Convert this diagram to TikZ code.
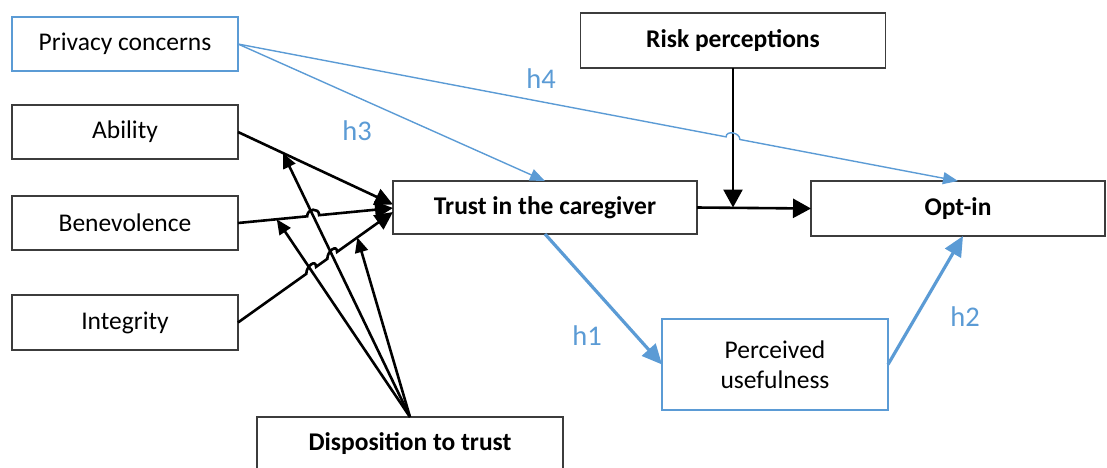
\documentclass[tikz,border=0pt]{standalone}
\usepackage{fontspec}
\setmainfont{Carlito}
\usetikzlibrary{arrows.meta,calc,intersections}
\definecolor{obl}{RGB}{91,155,213}
\definecolor{bord}{RGB}{60,60,60}
\tikzset{
 box/.style={draw=bord, line width=1.6pt, fill=white, minimum height=54pt, inner sep=0pt, outer sep=0pt, align=center, font=\fontsize{25.5}{30}\selectfont},
 bbox/.style={box, font=\fontsize{25.5}{30}\selectfont\bfseries},
 blbox/.style={box, draw=obl},
 blk/.style={line width=2.6pt, black, -{Triangle[length=18pt,width=17pt]}},
 blkd/.style={line width=2.6pt, black, -{Triangle[length=15pt,width=13pt]}},
 blkr/.style={line width=2.6pt, black, -{Triangle[length=18pt,width=19pt]}},
 thinblue/.style={line width=1.4pt, obl, -{Triangle[length=15pt,width=12pt]}},
 thickblue/.style={line width=3.2pt, obl, -{Triangle[length=20pt,width=18pt]}},
 hlab/.style={text=obl, font=\fontsize{28.5}{32}\selectfont, inner sep=0pt},
}
\begin{document}
\begin{tikzpicture}[x=1pt,y=-1pt]
\useasboundingbox (0,0) rectangle (1107,467);
% boxes
\node[blbox, minimum width=226pt] (pc) at (125,44) {Privacy concerns};
\node[box, minimum width=226pt] (ab) at (125,132) {Ability};
\node[box, minimum width=226pt] (be) at (125,223) {Benevolence};
\node[box, minimum width=226pt, minimum height=55pt] (in) at (125,322.5) {Integrity};
\node[bbox, minimum width=304pt, minimum height=53pt] (tr) at (545,207.5) {Trust in the caregiver};
\node[bbox, minimum width=294pt, minimum height=55pt] (op) at (958,208.5) {Opt-in};
\node[bbox, minimum width=305pt, minimum height=55pt] (rp) at (733,40.5) {Risk perceptions};
\node[blbox, minimum width=226pt, minimum height=91pt] (pu) at (775,364.5) {Perceived\\usefulness};
\node[bbox, minimum width=306pt] (dt) at (410,444) {Disposition to trust};
% coordinates
\coordinate (tA) at ($(tr.west)+(0,-3)$);
\coordinate (tB) at ($(tr.west)+(0,0.5)$);
\coordinate (tI) at ($(tr.west)+(0,4.5)$);
\coordinate (a1) at ($(ab.east)!0.29!(tA)$);
\coordinate (b1) at ($(be.east)!0.25!(tB)$);
\coordinate (i1) at ($(in.east)!0.77!(tI)$);
\coordinate (rj) at (rp.south |- tr.east);
\coordinate (h2e) at ($(op.south)+(5,0)$);
\path[name path=d1] (dt.north) -- (a1);
\path[name path=d2] (dt.north) -- (b1);
\path[name path=lb] (be.east) -- (tB);
\path[name path=li] (in.east) -- (tI);
\path[name path=h4] (pc.east) -- (op.north);
\path[name path=rv] (rp.south) -- (rj);
\path[name intersections={of=d1 and lb, by=xb}];
\path[name intersections={of=d2 and li, by=xiA}];
\path[name intersections={of=d1 and li, by=xiB}];
\path[name intersections={of=h4 and rv, by=xh}];
\coordinate (xb1) at ($(xb)!6pt!(be.east)$);
\coordinate (xb2) at ($(xb)!6pt!(tB)$);
\coordinate (xiA1) at ($(xiA)!6pt!(in.east)$);
\coordinate (xiA2) at ($(xiA)!6pt!(tI)$);
\coordinate (xiB1) at ($(xiB)!6pt!(in.east)$);
\coordinate (xiB2) at ($(xiB)!6pt!(tI)$);
\coordinate (xh1) at ($(xh)!7pt!(pc.east)$);
\coordinate (xh2) at ($(xh)!7pt!(op.north)$);
% black connectors
\draw[blk] (ab.east) -- (tA);
\draw[blk] (be.east) -- (xb1) .. controls ($(xb1)+(0,-8)$) and ($(xb2)+(0,-8)$) .. (xb2) -- (tB);
\draw[blk] (in.east) -- (xiA1) .. controls ($(xiA1)+(0,-8)$) and ($(xiA2)+(0,-8)$) .. (xiA2)
  -- (xiB1) .. controls ($(xiB1)+(0,-8)$) and ($(xiB2)+(0,-8)$) .. (xiB2) -- (tI);
\draw[blkd] (dt.north) -- (a1);
\draw[blkd] (dt.north) -- (b1);
\draw[blkd] (dt.north) -- (i1);
\draw[blkr] (tr.east) -- (op.west);
\draw[blkr] (rp.south) -- (rj);
% blue connectors
\draw[thinblue] (pc.east) -- (tr.north);
\draw[thinblue] (pc.east) -- (xh1) .. controls ($(xh1)+(0,-7)$) and ($(xh2)+(0,-7)$) .. (xh2) -- (op.north);
\draw[thickblue] (tr.south) -- (pu.west);
\draw[thickblue] (pu.east) -- (h2e);
% labels
\node[hlab] (l3) at (357,131) {h3};
\node[hlab] (l4) at (541,79) {h4};
\node[hlab] (l1) at (587,336) {h1};
\node[hlab] (l2) at (965,317) {h2};
\end{tikzpicture}
\end{document}
